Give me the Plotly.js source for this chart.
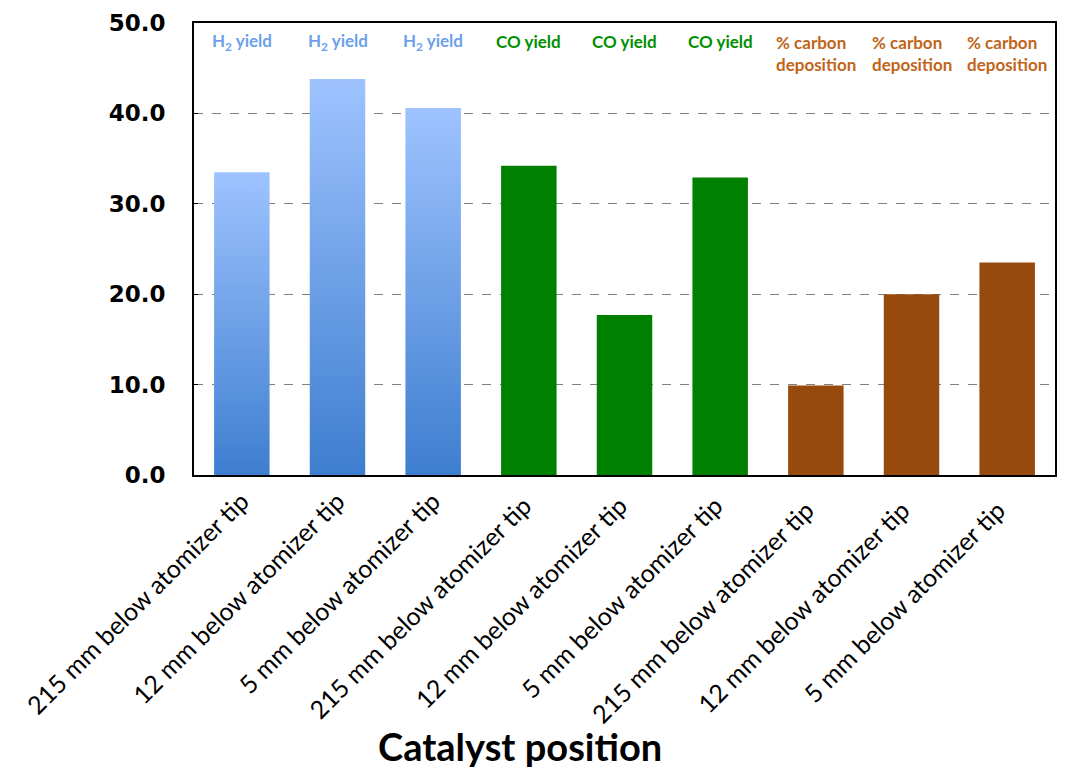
<!DOCTYPE html>
<html>
<head>
<meta charset="utf-8">
<script src="https://cdn.plot.ly/plotly-3.0.1.min.js"></script>
<style>html,body{margin:0;padding:0;background:#fff;}#chart{width:1076px;height:772px;}</style>
</head>
<body>
<div id="chart"></div>
<script>
const categories = ["215 mm below atomizer tip","12 mm below atomizer tip","5 mm below atomizer tip",
  "215 mm below atomizer tip ","12 mm below atomizer tip ","5 mm below atomizer tip ",
  "215 mm below atomizer tip  ","12 mm below atomizer tip  ","5 mm below atomizer tip  "];
const h2Cats = categories.slice(0,3);
const coCats = categories.slice(3,6);
const cCats = categories.slice(6,9);
const h2Yield = [33.5, 43.8, 40.6];
const coYield = [34.2, 17.7, 32.9];
const carbonDep = [9.9, 20.0, 23.5];
const h2Label = "H<sub>2</sub> yield";
const coLabel = "CO yield";
const cLabel = "% carbon<br>deposition";
const yTicks = [0,10,20,30,40,50];
const yTickText = ["0.0","10.0","20.0","30.0","40.0","50.0"];

const traces = [
  {type:"bar", x:h2Cats, y:h2Yield, marker:{color:"#6E9FE6"}, name:"H2"},
  {type:"bar", x:coCats, y:coYield, marker:{color:"#008000"}, name:"CO"},
  {type:"bar", x:cCats, y:carbonDep, marker:{color:"#964B0C"}, name:"C"}
];

const annFont = "Lato, 'Open Sans', sans-serif";
const annotations = [];
h2Cats.forEach(c=>annotations.push({x:c, y:47.9, xref:"x", yref:"y", text:h2Label, showarrow:false,
  font:{family:annFont, size:17, color:"#6D9FEA", weight:"bold"}}));
coCats.forEach(c=>annotations.push({x:c, y:47.9, xref:"x", yref:"y", text:coLabel, showarrow:false,
  font:{family:annFont, size:17, color:"#009000", weight:"bold"}}));
cCats.forEach(c=>annotations.push({x:c, y:47.9, xref:"x", yref:"y", yanchor:"top", yshift:12, text:cLabel, showarrow:false, align:"left",
  font:{family:annFont, size:17, color:"#C0651A", weight:"bold"}}));
annotations.push({xref:"paper", yref:"paper",
  x:(520-194)/(1076-194-21), y:-(746-475)/(772-23-297), xanchor:"center", yanchor:"middle",
  text:"<b>Catalyst position</b>", showarrow:false,
  font:{family:annFont, size:38, color:"#000"}});

const layout = {
  width:1076, height:772,
  margin:{l:194, r:21, t:23, b:297},
  paper_bgcolor:"#fff", plot_bgcolor:"#fff",
  showlegend:false,
  bargap:0.42,
  xaxis:{type:"category", categoryorder:"array", categoryarray:categories,
    tickangle:-45, tickfont:{family:annFont, size:25, color:"#000"},
    showline:true, linecolor:"#000", linewidth:2, mirror:true, ticks:"", showgrid:false},
  yaxis:{range:[0,50], tickvals:yTicks, ticktext:yTickText,
    tickfont:{family:"'DejaVu Sans', Verdana, sans-serif", size:23, color:"#000", weight:"bold"},
    showline:true, linecolor:"#000", linewidth:2, mirror:true,
    ticks:"inside", ticklen:4, tickcolor:"#000",
    showgrid:true, gridcolor:"#808080", griddash:"dash", gridwidth:1.2,
    ticklabelstandoff:22, zeroline:false},
  annotations: annotations
};

Plotly.newPlot("chart", traces, layout, {displayModeBar:false, staticPlot:true}).then(gd=>{
  const svg = gd.querySelector("svg.main-svg");
  const ns = "http://www.w3.org/2000/svg";
  let defs = svg.querySelector("defs");
  const grad = document.createElementNS(ns,"linearGradient");
  grad.setAttribute("id","h2grad");
  grad.setAttribute("x1","0"); grad.setAttribute("y1","0"); grad.setAttribute("x2","0"); grad.setAttribute("y2","1");
  const s1 = document.createElementNS(ns,"stop"); s1.setAttribute("offset","0"); s1.setAttribute("stop-color","#9EC3FF");
  const s2 = document.createElementNS(ns,"stop"); s2.setAttribute("offset","1"); s2.setAttribute("stop-color","#3E7ECF");
  grad.appendChild(s1); grad.appendChild(s2); defs.appendChild(grad);
  const traceGroups = gd.querySelectorAll("g.trace.bars");
  if (traceGroups.length) {
    traceGroups[0].querySelectorAll("path").forEach(p=>{ p.style.fill = "url(#h2grad)"; });
  }
});
</script>
</body>
</html>
